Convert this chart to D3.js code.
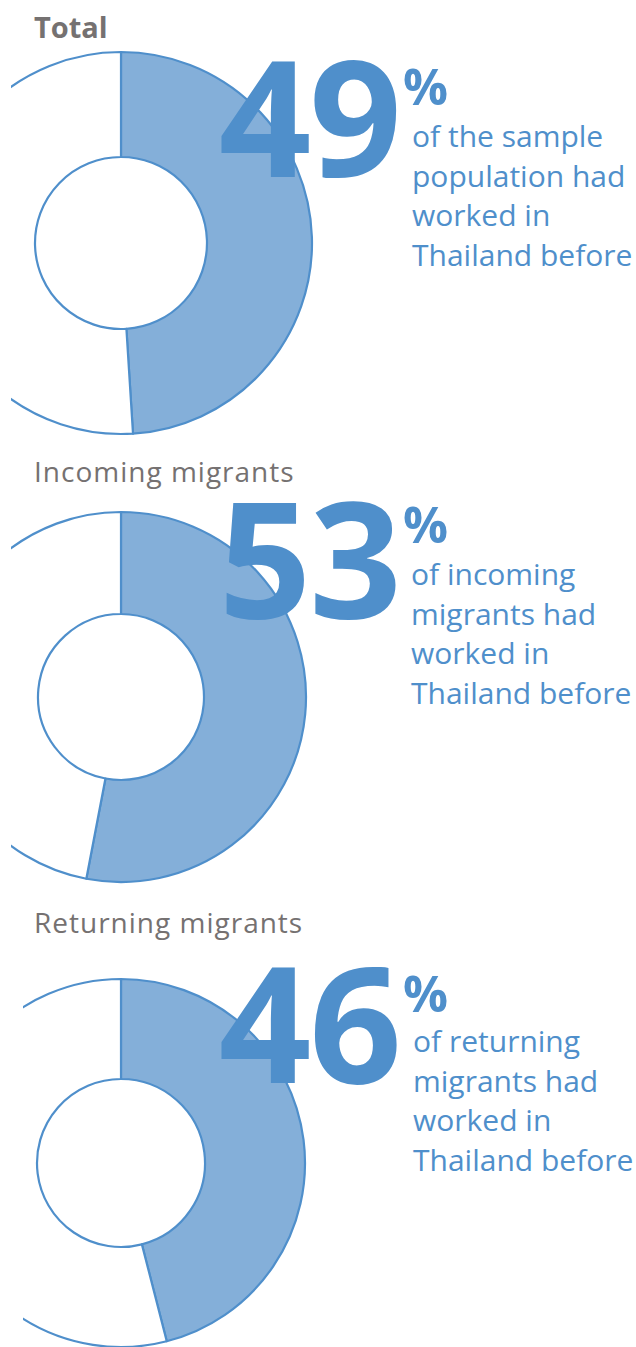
<!DOCTYPE html>
<html>
<head>
<meta charset="utf-8">
<script src="https://cdn.jsdelivr.net/npm/d3@7"></script>
<style>
  body { margin: 0; background: #fff; }
  svg { display: block; }
</style>
</head>
<body>
<svg id="chart"></svg>
<script>
// data
const groups = ["Total", "Incoming migrants", "Returning migrants"];
const shares = [49, 53, 46]; // % who had worked in Thailand before
const captions = [
    ["of the sample", "population had", "worked in", "Thailand before"],
    ["of incoming", "migrants had", "worked in", "Thailand before"],
    ["of returning", "migrants had", "worked in", "Thailand before"]
];

// layout for each panel (positions only)
const layout = [
    { cx: 121, cy: 243, outer: 191, inner: 86, clipX: 11, title: 38,  bold: true,  num: 177,  pct: 105,  txt: 147,  txtX: 412 },
    { cx: 121, cy: 697, outer: 185, inner: 83, clipX: 11, title: 482, bold: false, num: 618,  pct: 543,  txt: 585,  txtX: 411 },
    { cx: 121, cy: 1163, outer: 184, inner: 84, clipX: 23, title: 933, bold: false, num: 1083, pct: 1012, txt: 1052, txtX: 413 }
];

const width = 636, height = 1347;
const blue = "#4f8fcb", fillBlue = "#84afd9", grey = "#757171";
const font = "'Open Sans', 'Noto Sans', sans-serif";

const svg = d3.select("#chart")
    .attr("width", width)
    .attr("height", height);

const pie = d3.pie().sort(null).value(d => d.v);

groups.forEach(function(g, i) {
    let L = layout[i];
    let pieData = pie([{ k: "yes", v: shares[i] }, { k: "no", v: 100 - shares[i] }]);
    let arc = d3.arc().innerRadius(L.inner).outerRadius(L.outer);

    // clip the left edge of the donut like the original
    svg.append("clipPath")
        .attr("id", "clip" + i)
        .append("rect")
        .attr("x", L.clipX)
        .attr("y", 0)
        .attr("width", width)
        .attr("height", height);

    let donut = svg.append("g")
        .attr("clip-path", `url(#clip${i})`)
        .append("g")
        .attr("transform", `translate(${L.cx},${L.cy})`);

    donut.selectAll("path")
        .data(pieData)
        .enter()
        .append("path")
        .attr("d", arc)
        .attr("fill", d => d.data.k === "yes" ? fillBlue : "#fff")
        .attr("stroke", blue)
        .attr("stroke-width", 2.2)
        .attr("stroke-linejoin", "round");

    // group title
    svg.append("text")
        .attr("x", 34)
        .attr("y", L.title)
        .attr("font-family", font)
        .attr("font-size", L.bold ? "29px" : "28px")
        .attr("font-weight", L.bold ? 700 : 400)
        .attr("letter-spacing", L.bold ? "0px" : "1px")
        .attr("fill", grey)
        .text(g);

    // big number
    svg.append("text")
        .attr("x", 400)
        .attr("y", L.num)
        .attr("text-anchor", "end")
        .attr("font-family", font)
        .attr("font-size", "162px")
        .attr("font-weight", 700)
        .attr("letter-spacing", "-2px")
        .attr("fill", blue)
        .text(shares[i]);

    svg.append("text")
        .attr("x", 403)
        .attr("y", L.pct)
        .attr("font-family", font)
        .attr("font-size", "50px")
        .attr("font-weight", 700)
        .attr("fill", blue)
        .text("%");

    // caption lines
    svg.append("text")
        .attr("font-family", font)
        .attr("font-size", "30px")
        .attr("fill", blue)
        .selectAll("tspan")
        .data(captions[i])
        .enter()
        .append("tspan")
        .attr("x", L.txtX)
        .attr("y", (d, j) => L.txt + j * 39.5)
        .text(d => d);
});
</script>
</body>
</html>
